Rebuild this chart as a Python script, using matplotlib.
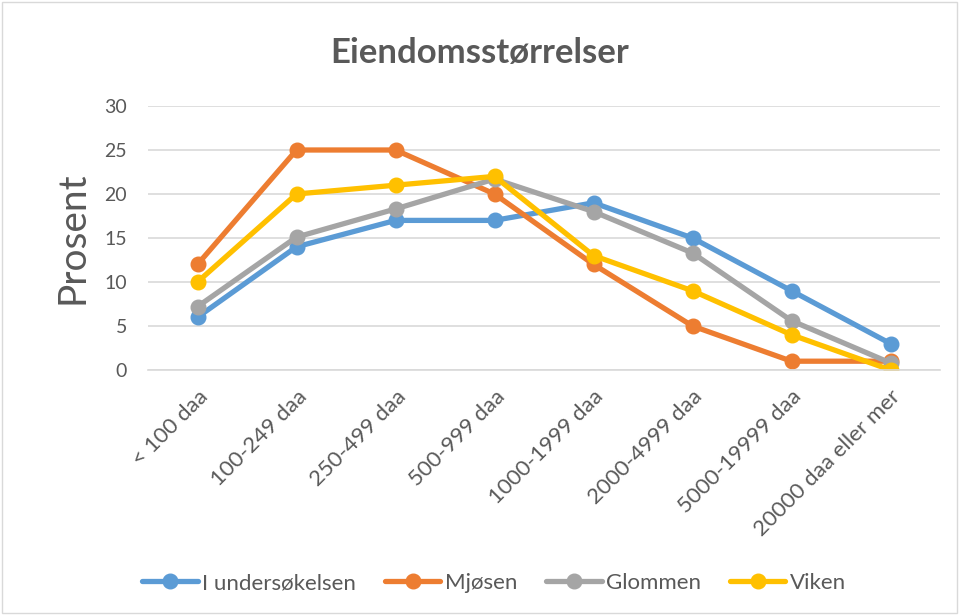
import matplotlib
import matplotlib.pyplot as plt
from matplotlib.patches import Rectangle

matplotlib.use('Agg')

# Data
categories = ['< 100 daa', '100-249 daa', '250-499 daa', '500-999 daa',
              '1000-1999 daa', '2000-4999 daa', '5000-19999 daa', '20000 daa eller mer']
undersokelsen = [6, 14, 17, 17, 19, 15, 9, 3]
mjosen = [12, 25, 25, 20, 12, 5, 1, 1]
glommen = [7.2, 15.1, 18.3, 21.7, 18.0, 13.3, 5.6, 0.8]
viken = [10, 20, 21, 22, 13, 9, 4, 0]

series_names = ['I undersøkelsen', 'Mjøsen', 'Glommen', 'Viken']
series_values = [undersokelsen, mjosen, glommen, viken]
colors = ['#5B9BD5', '#ED7D31', '#A5A5A5', '#FFC000']

plt.rcParams['font.family'] = ['Lato', 'DejaVu Sans']
text_color = '#595959'

fig = plt.figure(figsize=(9.59, 6.15), dpi=100)
ax = fig.add_axes([148 / 959, 1 - 370 / 615, (940 - 148) / 959, (370 - 106) / 615])

x = list(range(len(categories)))
for name, vals, c in zip(series_names, series_values, colors):
    ax.plot(x, vals, color=c, linewidth=3.8, marker='o', markersize=10.5,
            label=name, solid_capstyle='round')

ax.set_ylim(0, 30)
ax.set_xlim(-0.5, len(categories) - 0.5)
ax.set_yticks(range(0, 31, 5))
ax.set_xticks(x)
ax.set_xticklabels(categories, rotation=45, ha='right', rotation_mode='anchor')
ax.tick_params(axis='both', length=0, labelcolor=text_color)
ax.tick_params(axis='x', pad=12, labelsize=16)
ax.tick_params(axis='y', pad=15, labelsize=14)
ax.grid(axis='y', color='#D9D9D9', linewidth=1.2)
ax.set_axisbelow(True)
for s in ['top', 'right', 'left']:
    ax.spines[s].set_visible(False)
ax.spines['bottom'].set_color('#D9D9D9')
ax.spines['bottom'].set_linewidth(1.2)

ax.set_ylabel('Prosent', fontsize=28, color=text_color, labelpad=10)
fig.text(0.5, 1 - 53 / 615, 'Eiendomsstørrelser', ha='center', va='center',
         fontsize=25, fontweight='bold', color=text_color)

fig.legend(loc='center', bbox_to_anchor=(494 / 959, 1 - 583 / 615), ncol=4,
           frameon=False, fontsize=16, labelcolor=text_color,
           handlelength=2.5, columnspacing=1.3, handletextpad=0.2)

# Chart border like the Excel chart area
fig.patches.append(Rectangle((2 / 959, 2 / 615), 1 - 4 / 959, 1 - 4 / 615,
                             transform=fig.transFigure, fill=False,
                             edgecolor='#D9D9D9', linewidth=1))

fig.savefig('out.png', dpi=100)
